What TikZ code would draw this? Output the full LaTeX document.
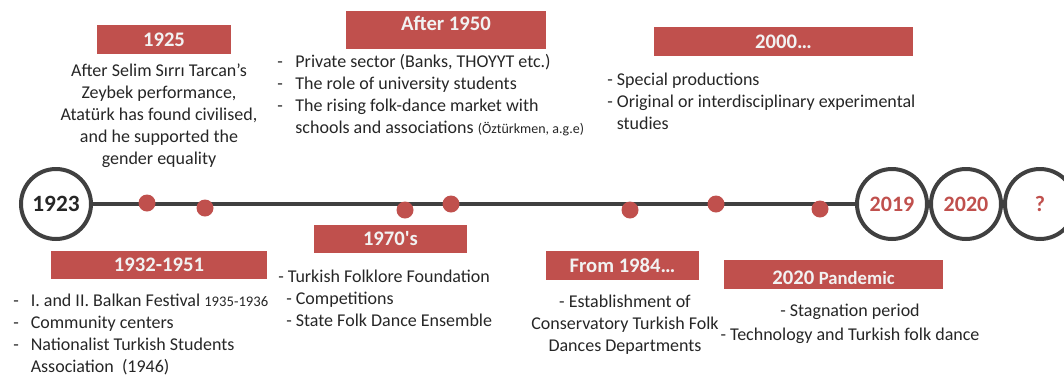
\documentclass[tikz,border=0pt]{standalone}
\usepackage{fontspec}
\setmainfont{Carlito}
\usepackage{tikz}
\usetikzlibrary{positioning}

\definecolor{tlred}{HTML}{C0504D}
\definecolor{tlgray}{HTML}{404040}
\definecolor{tltext}{HTML}{262626}

\begin{document}
\begin{tikzpicture}[
      x=0.75pt, y=-0.75pt,
      yr/.style = {fill=tlred, text=white!95!black, inner sep=0pt, minimum height=21.75pt,
                   font=\bfseries\fontsize{15.5}{18}\selectfont},
      ev/.style = {circle, fill=tlred, minimum size=12.75pt, inner sep=0pt},
      ring/.style = {circle, draw=tlgray, line width=3pt, fill=white, minimum size=52.5pt,
                     inner sep=0pt, text=tlred, font=\bfseries\fontsize{16.5}{19}\selectfont},
      tx/.style = {text=tltext, inner sep=0pt, font=\fontsize{13.5}{16.5}\selectfont},
    ]
    \clip (0,0) rectangle (1064,376);

    \node[ring, text=tltext, font=\bfseries\fontsize{17.5}{20}\selectfont] (c1923) at (56,204) {1923};
    \node[ring] (c2019) at (892,204) {2019};
    \node[ring] (c2020) at (966,204) {2020};
    \node[ring] (cq)    at (1040,204) {?};
    \draw[tlgray, line width=3.6pt] (c1923) -- (c2019);

    \node[ev] (e1) at (147,203) {};
    \node[ev] (e2) at (205,208) {};
    \node[ev] (e3) at (405,210) {};
    \node[ev] (e4) at (451,204) {};
    \node[ev] (e5) at (630,210) {};
    \node[ev] (e6) at (716,204) {};
    \node[ev] (e7) at (820,209) {};

    \node[yr, minimum width=100.5pt] (b1925) at (164,39.5) {1925};
    \node[tx, align=center] (t1925) at (159,115.5)
      {After Selim Sırrı Tarcan’s\\Zeybek performance,\\Atatürk has found civilised,\\and he supported the\\gender equality};

    \node[yr, minimum width=150pt, minimum height=28.5pt, text depth=10pt] (b1950) at (446,30) {After 1950};
    \node[tx, anchor=west] (t1950) at (277,96.5)
      {\begin{tabular}{@{}l@{\hspace{9.5pt}}l@{}}
        - & Private sector (Banks, THOYYT etc.)\\
        - & The role of university students\\
        - & The rising folk-dance market with\\
          & schools and associations {\fontsize{10.5}{16.5}\selectfont (Öztürkmen, a.g.e)}
       \end{tabular}};

    \node[yr, minimum width=194.25pt] (b2000) at (783.5,41.5) {2000…};
    \node[tx, anchor=west, align=left] (t2000) at (607,101.5)
      {- Special productions\\- Original or interdisciplinary experimental\\\phantom{- }studies};

    \node[yr, minimum width=114.75pt, minimum height=21pt] (b1970) at (390.5,239) {1970\textquotesingle s};
    \node[tx, anchor=west, align=left] (t1970) at (278,298.5)
      {- Turkish Folklore Foundation\\\hspace*{6pt}- Competitions\\\hspace*{6pt}- State Folk Dance Ensemble};

    \node[yr, minimum width=162pt, minimum height=21pt] (b1932) at (159,265) {1932-1951};
    \node[tx, anchor=west] (t1932) at (13,335.5)
      {\begin{tabular}{@{}l@{\hspace{9pt}}l@{}}
        - & I. and II. Balkan Festival {\fontsize{11}{16.5}\selectfont 1935-1936}\\
        - & Community centers\\
        - & Nationalist Turkish Students\\
          & Association\ \ (1946)
       \end{tabular}};

    \node[yr, minimum width=114.75pt] (b1984) at (622.5,265.5) {From 1984…};
    \node[tx, align=center] (t1984) at (625,325)
      {- Establishment of\\Conservatory Turkish Folk\\Dances Departments};

    \node[yr, minimum width=164.25pt, text height=15pt] (bpand) at (833.5,274.5)
      {2020 {\fontsize{14}{18}\selectfont Pandemic}};
    \node[tx, align=center, font=\fontsize{13.5}{18}\selectfont] (tpand) at (850,324)
      {- Stagnation period\\- Technology and Turkish folk dance};
\end{tikzpicture}
\end{document}
